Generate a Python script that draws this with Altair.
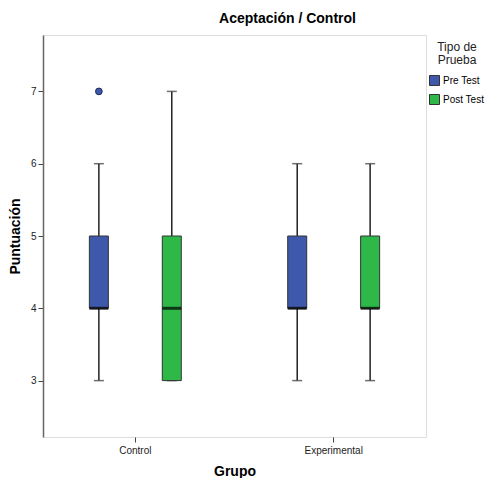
import altair as alt
import pandas as pd

grupos = ["Control", "Control", "Experimental", "Experimental"]
tipos = ["Pre Test", "Post Test", "Pre Test", "Post Test"]
mins = [3, 3, 3, 3]
q1s = [4, 3, 4, 4]
meds = [4, 4, 4, 4]
q3s = [5, 5, 5, 5]
maxs = [6, 7, 6, 6]

out_grupo = ["Control"]
out_tipo = ["Pre Test"]
out_val = [7]

df = pd.DataFrame({"Grupo": grupos, "Tipo": tipos, "min": mins, "q1": q1s,
                   "med": meds, "q3": q3s, "max": maxs})
df_out = pd.DataFrame({"Grupo": out_grupo, "Tipo": out_tipo, "val": out_val})

tipo_order = ["Pre Test", "Post Test"]
colors = ["#3E58AC", "#2EB848"]

W, H = 383, 402

xenc = alt.X("Grupo:N", title="Grupo",
             scale=alt.Scale(paddingInner=0.5, paddingOuter=0.2155),
             axis=alt.Axis(labelAngle=0, labelFontSize=10, labelColor="#222",
                           titleFontSize=14, titleFontWeight="bold", titlePadding=9,
                           tickSize=5, tickColor="#444", domain=False,
                           labelPadding=3))
xoff = alt.XOffset("Tipo:N", sort=tipo_order,
                   scale=alt.Scale(paddingInner=0.64, paddingOuter=0))
ydom = alt.Scale(domain=[2.22, 7.78], nice=False, zero=False)
yaxis = alt.Axis(values=[3, 4, 5, 6, 7], format="d", grid=False, labelFontSize=10,
                 labelColor="#222", tickSize=5, tickColor="#444",
                 domainColor="#666", domainWidth=1.5, labelPadding=2,
                 titleFontSize=14, titleFontWeight="bold", titlePadding=8)

base = alt.Chart(df)

whisk = base.mark_rule(color="#222", strokeWidth=1.5).encode(
    x=xenc, xOffset=xoff,
    y=alt.Y("min:Q", scale=ydom, axis=yaxis, title="Puntuación"),
    y2="max:Q")

cap_lo = base.mark_tick(color="#333", size=10, thickness=1.5).encode(
    x=xenc, xOffset=xoff, y=alt.Y("min:Q", scale=ydom))
cap_hi = base.mark_tick(color="#333", size=10, thickness=1.5).encode(
    x=xenc, xOffset=xoff, y=alt.Y("max:Q", scale=ydom))

box = base.mark_bar(size=19, stroke="#333", strokeWidth=1).encode(
    x=xenc, xOffset=xoff,
    y=alt.Y("q1:Q", scale=ydom), y2="q3:Q",
    color=alt.Color("Tipo:N", sort=tipo_order,
                    scale=alt.Scale(domain=tipo_order, range=colors),
                    legend=alt.Legend(title=["Tipo de", "Prueba"], orient="none",
                                      legendX=W + 3, legendY=7)))

med = base.mark_tick(color="#000", size=19, thickness=3).encode(
    x=xenc, xOffset=xoff, y=alt.Y("med:Q", scale=ydom))

outl = alt.Chart(df_out).mark_point(filled=True, size=45, color="#3E58AC",
                                    stroke="#1a2a5a", strokeWidth=1, opacity=1,
                                    shape="circle").encode(
    x=xenc, xOffset=xoff, y=alt.Y("val:Q", scale=ydom))

chart = alt.layer(whisk, cap_lo, cap_hi, box, med, outl).properties(
    width=W, height=H,
    padding={"left": 0, "top": 4, "right": 0, "bottom": 0},
    title=alt.TitleParams("Aceptación / Control", fontSize=14, fontWeight="bold",
                          frame="group", anchor="middle", dx=53, offset=9,
                          color="#000")
).configure_view(stroke="#555", strokeWidth=1.5, strokeOpacity=1).configure(
    font="Liberation Sans"
).configure_legend(
    titleFontSize=12, titleFontWeight="normal", titleAnchor="middle",
    titleColor="#222", labelFontSize=10, labelColor="#000",
    symbolType="square", symbolSize=100, symbolStrokeColor="#333",
    symbolStrokeWidth=1, symbolOpacity=1, rowPadding=4, titlePadding=8,
    titleLineHeight=13, padding=0, labelOffset=3
)

chart.save("out.html", embed_options={"renderer": "svg", "actions": False})
